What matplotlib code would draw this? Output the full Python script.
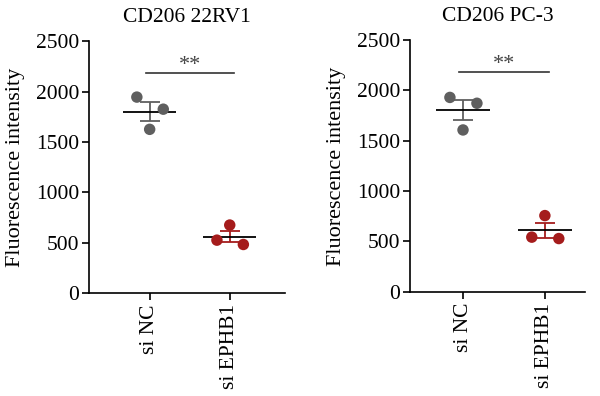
import matplotlib.pyplot as plt
import numpy as np

plt.rcParams['font.family'] = ['Liberation Serif', 'DejaVu Serif']

groups = ['si NC', 'si EPHB1']
titles = ['CD206 22RV1', 'CD206 PC-3']

# values per panel, per group (3 replicates, order: left, right, middle)
rv1_nc = [1945, 1825, 1625]
rv1_ephb1 = [525, 482, 675]
pc3_nc = [1930, 1872, 1607]
pc3_ephb1 = [543, 529, 757]

jitter = [-0.16, 0.17, 0.0]
sig_y = [2180, 2180]
colors = ['#5f5f5f', '#a51c1c']

fig = plt.figure(figsize=(6, 3.96), dpi=100)
ax1 = fig.add_axes([0.148, 0.260, 0.327, 0.636])
ax2 = fig.add_axes([0.683, 0.263, 0.292, 0.636])

panels = [(ax1, [rv1_nc, rv1_ephb1], (-0.76, 1.69)),
          (ax2, [pc3_nc, pc3_ephb1], (-0.65, 1.49))]

for i, (ax, data, xl) in enumerate(panels):
    for g, vals in enumerate(data):
        vals = np.array(vals)
        m = vals.mean()
        sem = vals.std(ddof=1) / np.sqrt(len(vals))
        ax.errorbar(g, m, yerr=sem, color=colors[g], lw=1.3, capsize=7,
                    capthick=1.3, zorder=2)
        ax.hlines(m, g - 0.33, g + 0.33, color='black', lw=1.3, zorder=3)
        ax.scatter(g + np.array(jitter), vals, s=68, color=colors[g],
                   edgecolors='none', zorder=4)
    ax.plot([-0.05, 1.05], [sig_y[i], sig_y[i]], color='#333333', lw=1.2)
    ax.text(0.5, sig_y[i] - 20, '**', ha='center', va='bottom', fontsize=16,
            color='#444444')
    ax.set_xlim(*xl)
    ax.set_ylim(0, 2500)
    ax.set_yticks([0, 500, 1000, 1500, 2000, 2500])
    ax.set_xticks([0, 1])
    ax.set_xticklabels(groups, rotation=90, fontsize=15.5)
    ax.tick_params(axis='y', labelsize=15.5, length=5, width=1.2, pad=2)
    ax.tick_params(axis='x', length=5, width=1.2, pad=3)
    for s in ['top', 'right']:
        ax.spines[s].set_visible(False)
    for s in ['left', 'bottom']:
        ax.spines[s].set_linewidth(1.2)
    ax.set_ylabel('Fluorescence intensity', fontsize=16, labelpad=8)
    ax.set_title(titles[i], fontsize=15.5, pad=14)

fig.savefig('out.png', dpi=100)
